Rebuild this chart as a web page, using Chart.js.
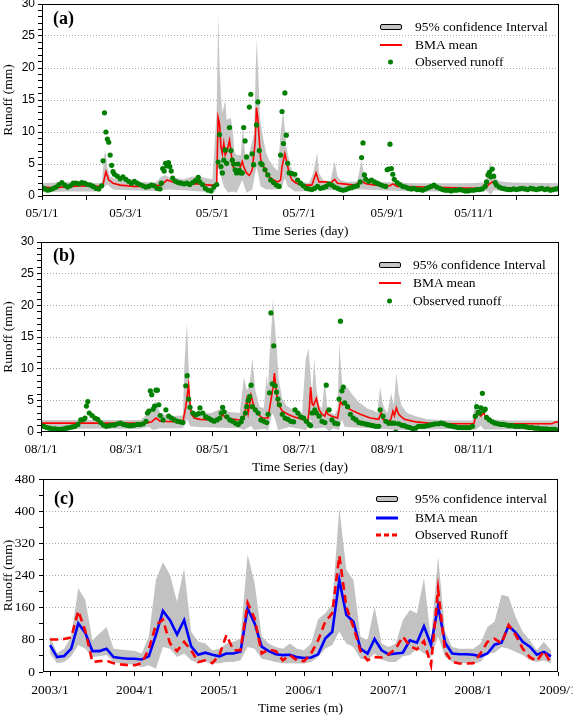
<!DOCTYPE html>
<html>
<head>
<meta charset="utf-8">
<script src="https://cdn.jsdelivr.net/npm/chart.js@4.4.1/dist/chart.umd.min.js"></script>
<style>
  body { margin: 0; background: #fff; width: 573px; height: 717px; position: relative; overflow: hidden; }
  canvas { position: absolute; left: 0; }
  .tag { position: absolute; font: bold 18px 'Liberation Serif', 'Times New Roman', serif; line-height: 18px; color: #000; }
  .row { position: absolute; height: 18px; display: flex; align-items: center; white-space: nowrap;
         font: 13.5px 'Liberation Serif', 'Times New Roman', serif; color: #000; }
  .sym { position: relative; height: 18px; }
  .sym > div { position: absolute; left: 0; top: 50%; transform: translateY(-50%); }
  .band { width: 22px; height: 6px; background: #c4c4c4; border: 1px solid #000; box-sizing: border-box; border-radius: 2px; }
  .redline { width: 22px; height: 2px; background: #ff0000; }
  .dot { left: 8px !important; width: 5px; height: 5px; border-radius: 50%; background: #008000; }
  .blueline { width: 22px; height: 3px; background: #0000ff; }
  .reddash { width: 22px; height: 3px; background: repeating-linear-gradient(90deg, #ff0000 0 5px, transparent 5px 8px); }
</style>
</head>
<body>
<canvas id="cA" width="573" height="240" style="top:0px"></canvas>
<canvas id="cB" width="573" height="246" style="top:230px"></canvas>
<canvas id="cC" width="573" height="247" style="top:470px"></canvas>

<div class="tag" style="left:53px;top:9px">(a)</div>
<div class="tag" style="left:53px;top:246px">(b)</div>
<div class="tag" style="left:54px;top:489px">(c)</div>

<div class="row" style="left:380px;top:18px"><div class="sym" style="width:35px"><div class="band"></div></div>95% confidence Interval</div>
<div class="row" style="left:380px;top:36px"><div class="sym" style="width:35px"><div class="redline"></div></div>BMA mean</div>
<div class="row" style="left:380px;top:53px"><div class="sym" style="width:35px"><div class="dot"></div></div>Observed runoff</div>

<div class="row" style="left:379px;top:256px"><div class="sym" style="width:34px"><div class="band"></div></div>95% confidence Interval</div>
<div class="row" style="left:379px;top:274px"><div class="sym" style="width:34px"><div class="redline"></div></div>BMA mean</div>
<div class="row" style="left:379px;top:292px"><div class="sym" style="width:34px"><div class="dot"></div></div>Observed runoff</div>

<div class="row" style="left:376px;top:490px"><div class="sym" style="width:39px"><div class="band"></div></div>95% confidence interval</div>
<div class="row" style="left:376px;top:509px"><div class="sym" style="width:39px"><div class="blueline"></div></div>BMA mean</div>
<div class="row" style="left:376px;top:526px"><div class="sym" style="width:39px"><div class="reddash"></div></div>Observed Runoff</div>

<script>
/* ── tick positions / labels ───────────────────────────────── */
const monthStartA = [0, 31, 59, 90, 120, 151, 181, 212, 243, 273, 304, 334];
const monthLabelA = ['05/1/1', '', '05/3/1', '', '05/5/1', '', '05/7/1', '', '05/9/1', '', '05/11/1', ''];
const monthStartB = [0, 31, 60, 91, 121, 152, 182, 213, 244, 274, 305, 335];
const monthLabelB = ['08/1/1', '', '08/3/1', '', '08/5/1', '', '08/7/1', '', '08/9/1', '', '08/11/1', ''];
const yTicksAB = [0, 1, 2, 3, 4, 5, 6, 7, 8, 9, 10, 11, 12, 13, 14, 15, 16, 17, 18, 19, 20, 21, 22, 23, 24, 25, 26, 27, 28, 29, 30];
const yTicksC = [0, 40, 80, 120, 160, 200, 240, 280, 320, 360, 400, 440, 480];
const monthTicksC = [0, 4, 8, 12, 16, 20, 24, 28, 32, 36, 40, 44, 48, 52, 56, 60, 64, 68, 72];
const monthLabelC = ['2003/1', '', '', '2004/1', '', '', '2005/1', '', '', '2006/1', '', '', '2007/1', '', '', '2008/1', '', '', '2009/1'];

/* ── (a) 2005 daily, [day of year, runoff mm] ─────────────── */
const obsA = [[0,1.3],[2,1.1],[4,0.9],[6,1.0],[8,1.2],[10,1.4],[12,1.8],[14,2.1],[16,1.7],[18,1.4],[20,1.6],[22,2.0],[24,2.0],[26,1.9],[28,2.1],[30,2.0],[32,1.8],[34,1.7],[36,1.5],[38,1.2],[40,1.1],[42,1.6],[43,5.5],[44,13.0],[45,10.0],[46,8.9],[47,8.4],[48,6.4],[49,4.8],[50,3.8],[51,3.4],[53,3.1],[55,2.7],[57,3.0],[59,2.6],[61,2.3],[63,2.0],[65,2.3],[67,2.0],[69,1.8],[71,1.6],[73,1.4],[75,1.5],[77,1.7],[79,1.6],[81,1.2],[83,1.1],[84,2.0],[85,4.3],[86,3.9],[87,5.1],[88,4.7],[89,5.2],[90,4.6],[91,3.9],[92,2.8],[94,2.3],[96,2.1],[98,2.0],[100,1.9],[102,2.0],[104,1.8],[106,2.1],[108,2.4],[110,2.9],[111,2.2],[113,1.8],[115,1.2],[117,0.9],[119,0.8],[121,1.4],[123,1.8],[124,5.3],[125,9.6],[126,4.6],[127,3.6],[128,5.6],[129,7.2],[130,5.1],[132,10.7],[133,7.1],[134,5.6],[135,5.0],[136,4.1],[137,3.6],[138,5.0],[139,4.0],[140,3.6],[141,3.6],[142,10.7],[143,8.6],[144,6.1],[146,13.9],[147,15.9],[148,6.6],[149,4.9],[151,11.1],[152,14.7],[153,7.1],[154,5.1],[155,4.9],[157,4.1],[159,3.3],[161,2.5],[163,2.1],[165,1.7],[167,1.5],[168,6.4],[169,13.2],[170,8.2],[171,16.1],[172,9.5],[173,5.1],[174,3.6],[176,3.5],[178,3.4],[180,2.5],[182,2.0],[184,1.6],[186,1.2],[188,1.1],[190,1.0],[192,1.2],[194,1.5],[196,1.2],[198,1.3],[200,1.5],[202,1.9],[204,1.7],[206,1.4],[208,1.2],[210,1.0],[212,0.9],[214,1.0],[216,1.2],[218,1.3],[220,1.5],[222,1.6],[224,2.2],[225,6.0],[226,8.3],[227,3.3],[228,2.6],[230,2.3],[232,2.5],[234,2.2],[236,2.0],[238,1.8],[240,1.6],[242,1.5],[243,4.1],[244,4.2],[245,8.1],[246,4.3],[247,3.4],[248,2.6],[250,2.1],[252,1.8],[254,1.5],[256,1.4],[258,1.2],[260,1.1],[262,1.2],[264,1.0],[266,1.0],[268,0.9],[270,1.1],[272,1.3],[274,1.5],[276,1.7],[278,1.4],[280,1.2],[282,1.0],[284,0.9],[286,0.9],[288,0.8],[290,0.9],[292,0.9],[294,1.0],[296,0.9],[298,0.8],[300,0.8],[302,0.9],[304,0.9],[306,1.0],[308,1.0],[310,1.1],[312,1.5],[313,2.2],[314,3.3],[315,3.7],[316,3.0],[317,4.2],[318,3.1],[319,2.1],[320,1.7],[322,1.4],[324,1.2],[326,1.1],[328,1.0],[330,1.0],[332,1.1],[334,1.0],[336,1.1],[338,1.2],[340,1.1],[342,1.0],[344,1.2],[346,1.1],[348,1.0],[350,1.1],[352,1.2],[354,1.0],[356,1.1],[358,0.9],[360,1.0],[362,1.1],[364,1.2]];
const meanA = [[0,1.4],[10,1.3],[20,1.5],[30,1.6],[40,1.5],[43,1.8],[45,3.8],[47,2.5],[50,2.0],[55,1.7],[65,1.5],[75,1.5],[84,1.7],[88,2.5],[92,2.2],[100,1.9],[110,1.9],[118,1.7],[121,1.7],[123,2.0],[124,12.3],[125,11.3],[126,7.7],[127,6.6],[128,8.2],[129,6.4],[130,6.9],[131,7.7],[132,8.7],[133,7.2],[134,4.9],[136,3.9],[137,3.6],[139,4.1],[141,5.4],[142,4.6],[144,3.6],[146,3.2],[148,4.1],[150,8.2],[151,13.8],[152,12.0],[153,8.7],[154,5.6],[156,4.6],[158,3.6],[160,3.0],[163,2.5],[166,2.2],[168,2.5],[169,4.6],[171,6.6],[172,5.6],[174,3.6],[176,2.5],[179,2.0],[183,1.7],[190,1.7],[193,3.6],[195,2.2],[200,2.2],[203,2.0],[206,2.6],[208,2.0],[212,1.9],[220,1.7],[225,2.3],[228,1.9],[235,1.7],[245,1.6],[247,1.9],[250,1.5],[270,1.4],[290,1.3],[307,1.2],[312,1.2],[315,1.9],[317,2.2],[320,1.7],[325,1.3],[340,1.2],[364,1.2]];
const upperA = [[0,2.0],[10,2.1],[20,2.2],[30,2.2],[40,2.0],[42,2.1],[44,6.5],[45,6.8],[46,4.5],[48,3.0],[52,2.6],[60,2.3],[70,2.2],[80,2.1],[84,3.0],[87,3.3],[90,2.8],[95,2.8],[100,2.6],[105,3.0],[110,3.1],[115,2.8],[120,2.6],[123,13.4],[124,28.5],[125,20.2],[126,15.5],[127,13.0],[129,15.0],[130,11.9],[133,12.2],[134,10.8],[135.5,6.9],[137,6.4],[140,6.4],[141.5,11.1],[143,6.4],[145.6,6.4],[149.4,9.8],[150.5,20.2],[151.3,24.6],[152,20.2],[153.6,11.9],[156,8.7],[158,6.6],[160,5.6],[163,4.6],[166,3.9],[168,9.8],[169.8,13.4],[171,10.3],[172,7.7],[175,4.6],[178,3.1],[182,2.3],[188,2.0],[191,3.6],[193.7,6.8],[195,3.6],[198,2.5],[203,2.2],[206,5.4],[208,3.1],[210,2.5],[215,2.2],[222,2.3],[225,5.6],[227,3.0],[232,2.3],[240,2.2],[250,2.1],[260,2.0],[280,2.0],[300,2.0],[312,2.1],[314,3.3],[315.5,5.6],[317,3.5],[319,2.9],[322,2.3],[330,2.1],[364,2.0]];
const lowerA = [[0,0.6],[20,0.7],[40,0.7],[44,1.5],[46,1.8],[50,1.0],[60,0.9],[80,0.8],[85,0.9],[88,1.0],[100,0.9],[118,0.6],[122,0.7],[124,4.6],[125,3.5],[126,3.1],[128,1.5],[131,0.5],[134,0.7],[137,0.5],[141,2.5],[144,0.5],[148,1.0],[151,4.6],[152,3.6],[154,1.5],[158,1.0],[166,1.0],[169,1.5],[171,2.8],[173,1.5],[178,0.7],[190,0.8],[193,1.2],[200,0.9],[225,1.0],[260,0.7],[300,0.7],[313,0.8],[316,0.2],[318,0.9],[330,0.7],[364,0.7]];

/* ── (b) 2008 daily ────────────────────────────────────────── */
const obsB = [[0,1.0],[2,0.9],[4,0.7],[6,0.6],[8,0.5],[10,0.5],[12,0.4],[14,0.4],[16,0.5],[18,0.6],[20,0.7],[22,0.8],[24,0.9],[26,1.2],[28,1.9],[30,2.0],[31,2.2],[32,4.1],[33,4.8],[34,3.0],[36,2.6],[38,2.2],[40,2.0],[42,1.5],[44,1.1],[46,0.9],[48,1.0],[50,1.1],[52,1.1],[54,1.3],[56,1.4],[58,1.2],[60,1.1],[62,1.0],[64,1.0],[66,1.1],[68,1.2],[70,1.2],[72,1.3],[74,1.7],[75,3.0],[76,3.3],[77,6.5],[78,5.9],[79,3.6],[80,4.1],[81,6.6],[82,6.6],[83,4.3],[84,2.6],[86,1.9],[88,3.5],[90,2.5],[92,2.2],[94,1.9],[96,1.7],[98,1.6],[100,1.5],[102,7.3],[103,8.9],[104,5.2],[105,3.9],[107,3.0],[109,2.7],[111,2.9],[112,3.8],[114,3.0],[116,2.4],[118,2.2],[120,1.9],[122,1.7],[124,1.9],[126,2.2],[127,3.0],[128,3.9],[129,3.2],[131,2.4],[133,1.9],[135,1.7],[137,1.4],[139,1.2],[141,1.6],[142,2.2],[144,3.0],[145,4.0],[146,5.0],[147,5.6],[148,7.4],[149,4.0],[151,3.5],[153,3.0],[155,1.9],[157,1.7],[159,1.5],[160,2.8],[161,6.2],[162,18.8],[163,7.6],[164,13.6],[165,7.3],[166,6.3],[167,5.2],[168,4.3],[170,2.8],[172,2.2],[174,2.0],[176,1.7],[178,1.6],[179,3.5],[181,3.0],[183,2.4],[185,2.2],[187,1.7],[189,1.2],[190,1.0],[191,3.0],[193,3.5],[194,3.0],[196,2.5],[198,1.7],[200,1.5],[201,7.4],[203,3.5],[205,1.9],[207,1.4],[209,1.3],[210,5.2],[211,17.5],[212,6.5],[213,7.1],[214,4.6],[216,4.0],[218,2.8],[220,2.2],[222,1.9],[224,1.5],[226,1.4],[228,1.3],[230,1.2],[232,1.1],[234,1.0],[236,0.9],[238,0.9],[239,3.5],[241,2.5],[243,1.7],[245,1.4],[247,1.4],[249,1.4],[250,0.0],[252,1.3],[254,1.1],[256,1.0],[258,0.8],[260,0.7],[262,0.5],[264,0.6],[266,0.9],[268,0.9],[270,0.9],[272,1.0],[274,1.1],[276,1.2],[278,1.3],[280,1.3],[282,1.4],[284,1.3],[286,1.1],[288,1.0],[290,0.9],[292,0.8],[294,0.7],[296,0.7],[298,0.7],[300,0.7],[302,0.7],[304,0.9],[306,2.5],[307,4.0],[308,3.1],[309,3.0],[310,3.8],[311,6.1],[312,3.4],[313,3.6],[314,2.3],[316,1.9],[318,1.6],[320,1.4],[322,1.3],[324,1.2],[326,1.2],[328,1.1],[330,1.0],[332,1.0],[334,0.9],[336,0.9],[338,0.9],[340,0.9],[342,0.8],[344,0.7],[346,0.7],[348,0.6],[350,0.6],[352,0.5],[354,0.5],[356,0.5],[358,0.4],[360,0.4],[362,0.4],[364,0.3],[365,0.3]];
const meanB = [[0,1.4],[30,1.4],[60,1.4],[74,1.4],[78,1.6],[81,2.2],[84,1.7],[100,1.6],[102,4.0],[104,7.4],[105,4.5],[106,2.8],[108,2.2],[112,2.0],[120,1.9],[126,2.0],[128,2.8],[130,2.2],[140,1.9],[143,2.0],[145,5.0],[146,3.0],[148,5.8],[150,4.0],[152,3.0],[156,2.2],[160,2.2],[162,5.0],[163.5,7.0],[164.5,9.3],[165.5,7.0],[167,4.5],[170,3.3],[174,2.8],[178,2.4],[184,2.0],[188,1.8],[189,3.5],[190,7.1],[191,4.5],[192,4.2],[194,5.3],[196,3.5],[198,2.8],[200,2.5],[201,3.3],[202,2.8],[205,2.5],[209,2.2],[211,4.8],[212.5,4.3],[214,4.6],[216,3.8],[220,3.3],[225,2.8],[232,2.2],[238,2.0],[239.6,3.0],[241,2.0],[245,1.7],[246.5,2.0],[248,3.3],[249,2.6],[250.4,3.8],[252,2.8],[256,2.0],[264,1.6],[273,1.4],[290,1.3],[305,1.3],[306,2.2],[308,3.0],[310,2.5],[312,3.0],[314,2.0],[318,1.5],[325,1.3],[360,1.3],[363,1.6],[365,1.5]];
const upperB = [[0,1.9],[40,1.9],[70,1.9],[76,3.0],[78,4.0],[81,4.8],[84,3.0],[90,2.5],[100,2.6],[101,10.5],[102.8,17.1],[104,10.5],[105,5.0],[107,3.3],[112,3.0],[120,3.0],[128,3.8],[132,3.2],[140,3.0],[143,8.7],[145,6.6],[147,7.5],[149,11.6],[151,6.6],[154,4.0],[157,3.8],[159,9.0],[160,7.0],[161,12.1],[162.5,17.0],[163.5,21.1],[164.5,17.6],[166,13.5],[167.5,8.3],[170,5.2],[173,4.2],[176,3.7],[180,3.6],[184,3.0],[186.5,11.4],[188.5,13.2],[189.5,10.3],[191,5.9],[192.5,11.6],[194,6.9],[196,4.2],[198,3.7],[200,8.2],[201.5,4.2],[204,3.0],[207,2.8],[209,3.7],[210.2,14.0],[211,11.2],[212.5,6.9],[214.4,7.2],[216,7.0],[219,6.0],[224,4.7],[230,3.7],[234,3.4],[237,3.0],[239,7.2],[240.5,4.7],[242,3.7],[244,3.0],[246.8,6.1],[248.5,4.2],[250.4,9.3],[252,6.1],[254,4.2],[258,3.0],[264,2.5],[272,2.0],[290,1.8],[304,1.8],[306,5.1],[308,3.0],[311,2.5],[316,2.0],[330,1.8],[365,1.8]];
const lowerB = [[0,0.5],[70,0.5],[76,0.8],[79,0.3],[84,0.6],[100,0.6],[103,2.0],[105,0.9],[110,0.8],[140,0.6],[143,0.3],[148,1.0],[150,0.3],[158,0.5],[160,0.2],[163,3.0],[165,2.0],[167,0.3],[175,0.8],[187,0.3],[190,2.0],[192,0.5],[200,0.7],[203,0.1],[206,0.6],[210,0.3],[212,2.0],[214,0.8],[240,0.5],[250,0.3],[260,0.4],[300,0.5],[306,0.3],[310,1.0],[312,0.4],[365,0.4]];

/* ── (c) monthly 2003/1 – 2008/12 ──────────────────────────── */
const upperC = [89,47,58,88,208,179,79,96,112,58,56,54,52,46,88,229,273,242,175,258,100,75,71,54,58,71,75,83,292,221,88,71,62,58,71,58,54,71,131,146,167,408,254,229,88,79,162,71,62,71,129,154,146,233,79,288,100,62,58,58,58,71,112,125,192,188,137,100,79,54,75,54];
const lowerC = [46,22,25,39,67,58,37,39,42,25,21,19,18,12,17,8,62,58,37,46,29,22,25,21,22,25,25,29,62,58,33,29,25,22,22,21,21,25,37,58,67,100,71,62,33,29,46,31,25,25,39,42,58,46,37,88,37,25,22,22,21,25,46,48,62,58,50,42,29,25,29,21];
const meanC = [67,37,40,58,121,97,52,52,58,37,35,33,33,31,39,92,152,129,93,129,64,43,48,43,39,46,46,51,158,121,63,52,44,42,43,37,35,36,44,83,100,229,142,125,58,46,82,54,44,46,48,79,73,114,67,164,73,46,44,44,43,39,46,68,73,115,98,75,63,43,50,39];
const obsC = [81,81,82,86,152,102,25,27,28,22,19,17,17,22,57,117,130,71,52,75,54,25,29,22,42,92,54,54,172,133,46,56,52,29,42,29,27,46,79,125,146,289,162,112,52,29,37,36,44,58,88,65,56,77,17,206,50,25,21,21,22,46,75,83,71,117,92,58,37,27,52,22];

const SERIF = "'Liberation Serif', 'Times New Roman', serif";
const SANS  = "'Liberation Sans', Arial, sans-serif";

const pairs = arr => arr.map(([x, y]) => ({ x, y }));
const series = arr => arr.map((y, i) => ({ x: i, y }));

/* black box round the plot area */
const frame = {
  id: 'frame',
  afterDatasetsDraw(chart) {
    const { ctx, chartArea: a } = chart;
    ctx.save();
    ctx.strokeStyle = '#000';
    ctx.lineWidth = 1;
    ctx.strokeRect(Math.round(a.left) + 0.5, Math.round(a.top) + 0.5, Math.round(a.width) - 1, Math.round(a.height) - 1);
    ctx.restore();
  }
};

function makeChart(id, o) {
  return new Chart(document.getElementById(id), {
    type: 'line',
    data: { datasets: o.datasets },
    options: {
      responsive: false,
      animation: false,
      devicePixelRatio: 1,
      layout: { padding: { top: o.padTop, right: o.padRight, left: 0, bottom: 0 } },
      elements: { line: { tension: 0 } },
      plugins: { legend: { display: false }, tooltip: { enabled: false } },
      scales: {
        x: {
          type: 'linear', min: o.xMin, max: o.xMax,
          afterBuildTicks: s => { s.ticks = o.xTicks.map(v => ({ value: v })); },
          afterFit: s => { s.height = o.xHeight; s.paddingLeft = 0; s.paddingRight = 0; },
          ticks: {
            autoSkip: false, maxRotation: 0, minRotation: 0, padding: 6, color: '#000',
            font: { family: SERIF, size: o.xFont },
            callback: (v, i) => o.xLabels[i]
          },
          grid: { drawOnChartArea: false, tickLength: 4, tickColor: '#000', tickWidth: 1 },
          border: { display: false },
          title: { display: true, text: o.xTitle, color: '#000', font: { family: SERIF, size: 13.5 }, padding: 0 }
        },
        y: {
          type: 'linear', min: 0, max: o.yMax,
          afterBuildTicks: s => { s.ticks = o.yTicks.map(v => ({ value: v })); },
          afterFit: s => { s.width = o.yWidth; s.paddingTop = 0; s.paddingBottom = 0; },
          ticks: {
            autoSkip: false, padding: o.yPad, color: '#000',
            font: { family: o.yFamily, size: o.yFont },
            callback: v => (v % o.yMajor === 0 ? String(v) : '')
          },
          grid: {
            color: c => (c.tick && c.tick.value % o.yMajor === 0 && c.tick.value > 0 && c.tick.value < o.yMax) ? '#a4a4a4' : 'rgba(0,0,0,0)',
            lineWidth: 1, tickLength: 4, tickColor: '#000', tickWidth: 1, tickBorderDash: []
          },
          border: { display: false, dash: [1, 2] },
          title: { display: true, text: 'Runoff (mm)', color: '#000', font: { family: SERIF, size: 13.5 }, padding: 0 }
        }
      }
    },
    plugins: [frame]
  });
}

function dailySets(lower, upper, mean, obs) {
  return [
    { data: pairs(lower), borderWidth: 0, pointRadius: 0, fill: false, order: 3 },
    { data: pairs(upper), borderWidth: 0, pointRadius: 0, backgroundColor: '#c6c6c6', fill: '-1', order: 2 },
    { data: pairs(mean), borderColor: '#ff0000', borderWidth: 1.6, pointRadius: 0, fill: false, order: 1 },
    { data: pairs(obs), showLine: false, pointRadius: 2.6, pointBorderWidth: 0,
      pointBackgroundColor: '#008000', backgroundColor: '#008000', order: 0 }
  ];
}

makeChart('cA', {
  datasets: dailySets(lowerA, upperA, meanA, obsA),
  padTop: 4, padRight: 14, xHeight: 44, yWidth: 42,
  xMin: 0, xMax: 364, xTicks: monthStartA, xLabels: monthLabelA, xFont: 13, xTitle: 'Time Series (day)',
  yMax: 30, yTicks: yTicksAB, yMajor: 5, yFamily: SANS, yFont: 12, yPad: 3
});

makeChart('cB', {
  datasets: dailySets(lowerB, upperB, meanB, obsB),
  padTop: 12, padRight: 14, xHeight: 44, yWidth: 41,
  xMin: 0, xMax: 365, xTicks: monthStartB, xLabels: monthLabelB, xFont: 13, xTitle: 'Time Series (day)',
  yMax: 30, yTicks: yTicksAB, yMajor: 5, yFamily: SANS, yFont: 12, yPad: 3
});

makeChart('cC', {
  datasets: [
    { data: series(lowerC), borderWidth: 0, pointRadius: 0, fill: false, order: 3 },
    { data: series(upperC), borderWidth: 0, pointRadius: 0, backgroundColor: '#c2c2c2', fill: '-1', order: 2 },
    { data: series(meanC), borderColor: '#0000ff', borderWidth: 2.6, pointRadius: 0, fill: false, order: 1 },
    { data: series(obsC), borderColor: '#ff0000', borderWidth: 2.6, borderDash: [8, 5], pointRadius: 0, fill: false, order: 0 }
  ],
  padTop: 9, padRight: 15, xHeight: 45, yWidth: 43,
  xMin: -1, xMax: 72, xTicks: monthTicksC, xLabels: monthLabelC, xFont: 13.5, xTitle: 'Time series (m)',
  yMax: 480, yTicks: yTicksC, yMajor: 80, yFamily: SERIF, yFont: 13.5, yPad: 4
});
</script>
</body>
</html>
